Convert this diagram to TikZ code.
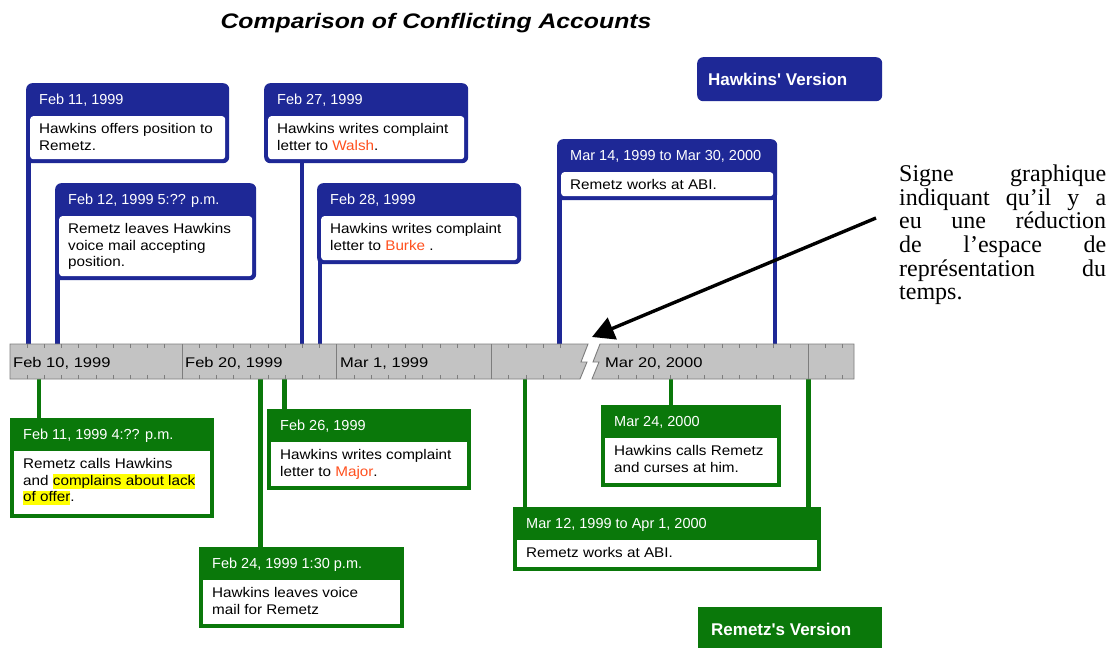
\documentclass[tikz,border=0pt]{standalone}
\usepackage{fontspec}
\setmainfont{Liberation Sans}
\newfontfamily\bodyfam[FakeStretch=1.09]{Liberation Sans}
\newfontfamily\widefam[FakeStretch=1.18]{Liberation Sans}
\newfontfamily\notefam{Liberation Serif}
\usetikzlibrary{arrows.meta}
\pgfdeclarelayer{paper}
\pgfdeclarelayer{bg}
\pgfsetlayers{paper,bg,main}
\definecolor{hblue}{RGB}{30,40,150}
\definecolor{rgreen}{RGB}{10,120,10}
\definecolor{hred}{RGB}{255,80,30}
\definecolor{hlyellow}{RGB}{255,255,0}
\definecolor{bargrey}{RGB}{195,195,195}
\definecolor{bardark}{RGB}{125,125,125}
\newcommand{\hlt}[1]{{\setlength{\fboxsep}{0pt}\colorbox{hlyellow}{\rule[-3.5pt]{0pt}{14.5pt}#1}}}
\tikzset{
  houter/.style={fill=hblue, rounded corners=6pt, inner sep=0pt},
  hinner/.style={fill=white, rounded corners=3pt, inner sep=0pt},
  router/.style={fill=rgreen, inner sep=0pt},
  rinner/.style={fill=white, inner sep=0pt},
  hdtext/.style={text=white, font=\fontsize{14.5}{16}\selectfont, inner sep=0pt, anchor=base west},
  bdtext/.style={text=black, font=\bodyfam\fontsize{14}{16.5}\selectfont, inner sep=0pt, anchor=north west, align=left},
  legtext/.style={text=white, font=\bfseries\fontsize{17}{19}\selectfont, inner sep=0pt, anchor=base west},
  barlabel/.style={text=black, font=\widefam\fontsize{14}{16}\selectfont, inner sep=0pt, anchor=base west},
  hline/.style={draw=hblue, line width=4.5pt},
  rline/.style={draw=rgreen, line width=4.5pt},
  barpiece/.style={fill=bargrey, draw=bardark, line width=0.9pt, line join=miter},
  tickmark/.style={draw=bardark, line width=0.8pt},
  majormark/.style={draw=bardark, line width=1pt},
  notearrow/.style={draw=black, line width=3.4pt, -{Triangle[length=22pt,width=23pt]}}
}
% #1 name, #2 h/r, #3 x, #4 y, #5 width, #6 height, #7 header, #8 body
% body first baseline sits at top+50.5; the 11.5pt strut fixes the top of the text node
\newcommand{\evbox}[8]{%
  \node[#2outer, minimum width=#5, minimum height=#6, anchor=north west] (#1) at (#3,#4) {};
  \node[#2inner, minimum width=#5-8, minimum height=#6-37, anchor=north west] (#1-in) at (#3+4,#4+33) {};
  \node[hdtext] (#1-hd) at (#3+13,#4+21) {#7};
  \node[bdtext] (#1-tx) at (#3+13,#4+39) {\rule{0pt}{11.5pt}#8};
}
\begin{document}
\begin{tikzpicture}[x=1pt,y=-1pt]
\begin{pgfonlayer}{paper}
  \fill[white] (0,0) rectangle (1109,648);
\end{pgfonlayer}
\useasboundingbox (0,0) rectangle (1109,648);

% title
\node[font=\widefam\bfseries\itshape\fontsize{21}{24}\selectfont, anchor=base, inner sep=0pt] (title) at (436,28) {Comparison of Conflicting Accounts};

% legends
\node[houter, minimum width=185, minimum height=44, anchor=north west] (hleg) at (697,57) {};
\node[legtext] (hleg-t) at (708,85) {Hawkins\textquotesingle\ Version};
\node[router, minimum width=184, minimum height=41, anchor=north west] (rleg) at (698,607) {};
\node[legtext] (rleg-t) at (711,635) {Remetz\textquotesingle s Version};

% timeline bar (name holder)
\node[inner sep=0pt, minimum width=844, minimum height=35, anchor=north west] (bar) at (10,344) {};

% Hawkins' (blue) events
\evbox{b1}{h}{26}{83}{203}{80}{Feb 11, 1999}{Hawkins offers position to\\Remetz.}
\evbox{b2}{h}{55}{183}{201}{97}{Feb 12, 1999 5:?? p.m.}{Remetz leaves Hawkins\\voice mail accepting\\position.}
\evbox{b3}{h}{264}{83}{204}{80}{Feb 27, 1999}{Hawkins writes complaint\\letter to \textcolor{hred}{Walsh}.}
\evbox{b4}{h}{317}{183}{204}{81}{Feb 28, 1999}{Hawkins writes complaint\\letter to \textcolor{hred}{Burke} .}
\evbox{b5}{h}{557}{139}{220}{61}{Mar 14, 1999 to Mar 30, 2000}{Remetz works at ABI.}

% Remetz's (green) events
\evbox{g1}{r}{10}{418}{204}{100}{Feb 11, 1999 4:?? p.m.}{Remetz calls Hawkins\\and \hlt{complains about lack}\\\hlt{of offer}.}
\evbox{g2}{r}{267}{409}{204}{81}{Feb 26, 1999}{Hawkins writes complaint\\letter to \textcolor{hred}{Major}.}
\evbox{g3}{r}{199}{547}{205}{81}{Feb 24, 1999 1:30 p.m.}{Hawkins leaves voice\\mail for Remetz}
\evbox{g4}{r}{601}{405}{180}{82}{Mar 24, 2000}{Hawkins calls Remetz\\and curses at him.}
\evbox{g5}{r}{513}{507}{308}{64}{Mar 12, 1999 to Apr 1, 2000}{Remetz works at ABI.}

% connectors (behind boxes)
\begin{pgfonlayer}{bg}
  \draw[hline] ([xshift=2.25pt]b1.west) -- ([xshift=2.25pt]b1.west |- bar.north);
  \draw[hline] ([xshift=2.25pt]b2.west) -- ([xshift=2.25pt]b2.west |- bar.north);
  \draw[hline] ([xshift=38pt]b3.west) -- ([xshift=38pt]b3.west |- bar.north);
  \draw[hline] ([xshift=3pt]b4.west) -- ([xshift=3pt]b4.west |- bar.north);
  \draw[hline] ([xshift=2.5pt]b5.west) -- ([xshift=2.5pt]b5.west |- bar.north);
  \draw[hline] ([xshift=-2.25pt]b5.east) -- ([xshift=-2.25pt]b5.east |- bar.north);
  \draw[rline] ([xshift=29pt]g1.west |- bar.south) -- ([xshift=29pt]g1.west);
  \draw[rline] ([xshift=17.5pt]g2.west |- bar.south) -- ([xshift=17.5pt]g2.west);
  \draw[rline] ([xshift=61.5pt]g3.west |- bar.south) -- ([xshift=61.5pt]g3.west);
  \draw[rline] ([xshift=70pt]g4.west |- bar.south) -- ([xshift=70pt]g4.west);
  \draw[rline] ([xshift=12pt]g5.west |- bar.south) -- ([xshift=12pt]g5.west);
  \draw[rline] ([xshift=-13pt]g5.east |- bar.south) -- ([xshift=-13pt]g5.east);
\end{pgfonlayer}

% bar pieces with the break
\draw[barpiece] (10,344) -- (588,344) -- (581,362) -- (587,362) -- (580,379) -- (10,379) -- cycle;
\draw[barpiece] (600,344) -- (854,344) -- (854,379) -- (592,379) -- (599,362) -- (593,362) -- cycle;

% ticks
\foreach \k in {1,...,32}{
  \draw[tickmark] (10+17.2*\k,344) -- ++(0,4);
  \draw[tickmark] (10+17.2*\k,379) -- ++(0,-4);
}
\foreach \j in {-2,...,11}{
  \draw[tickmark] (808-17.2*\j,344) -- ++(0,4);
  \draw[tickmark] (808-17.2*\j,379) -- ++(0,-4);
}
\foreach \m in {182,336.8,491.6,808}{
  \draw[majormark] (\m,344) -- (\m,379);
}

% bar labels
\node[barlabel] (lb1) at (13,367) {Feb 10, 1999};
\node[barlabel] (lb2) at (185,367) {Feb 20, 1999};
\node[barlabel] (lb3) at (340,367) {Mar 1, 1999};
\node[barlabel] (lb4) at (605,367) {Mar 20, 2000};

% annotation
\node[font=\notefam\fontsize{24}{23.6}\selectfont, anchor=north west, align=left, inner sep=0pt] (note) at (899,162.5)
  {\rule{0pt}{19pt}\makebox[207pt][s]{Signe graphique}\\
   \makebox[207pt][s]{indiquant qu’il y a}\\
   \makebox[207pt][s]{eu une réduction}\\
   \makebox[207pt][s]{de l’espace de}\\
   \makebox[207pt][s]{représentation du}\\
   temps.};
\coordinate (arrstart) at (876,218);
\coordinate (arrtip) at (592,337);
\draw[notearrow] (arrstart) -- (arrtip);
\end{tikzpicture}
\end{document}
